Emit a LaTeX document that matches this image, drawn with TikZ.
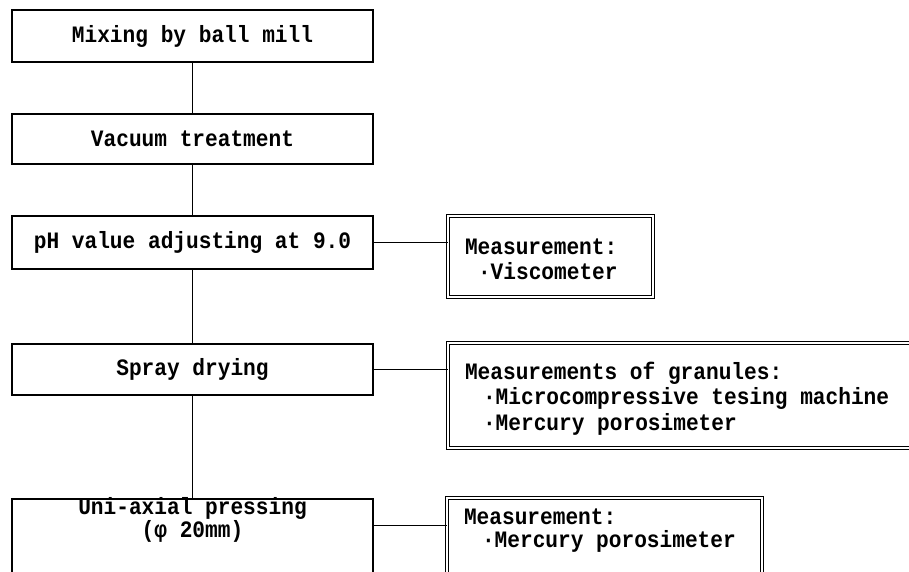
\documentclass[tikz,border=0pt]{standalone}
\usepackage{fontspec}
\newfontfamily\typefont{Liberation Mono}[FakeStretch=0.9]
\newcommand\typesize[1]{\typefont\bfseries\fontsize{23.5}{#1}\selectfont\spaceskip=12.69pt\relax}
\begin{document}
\begin{tikzpicture}[x=1pt,y=1pt,
  every node/.style={font=\typesize{25.5}},
  stage/.style={draw,line width=1.4pt,minimum width=361pt,inner sep=0pt,align=center},
  meas/.style={draw,double,line width=1pt,double distance=2pt,inner xsep=17pt,inner ysep=0pt,align=flush left}]
\useasboundingbox (0,0) rectangle (909,-572);
\node[stage,minimum height=52pt] (mix) at (192.5,-36) {Mixing by ball mill};
\node[stage,minimum height=50pt] (vac) at (192.5,-139) {Vacuum treatment};
\node[stage,minimum height=53pt] (ph) at (192.5,-242.5) {pH value adjusting at 9.0};
\node[stage,minimum height=51pt] (spray) at (192.5,-369.5) {Spray drying};
\node[stage,anchor=north,minimum height=120pt,text height=38.5pt,text depth=81.5pt,font=\typesize{20}] (press) at (192.5,-498.4)
  {Uni-axial pressing\\(φ 20mm)};
\node[meas,text height=38pt,text depth=43pt,text width=171pt] (visc) at (550.5,-256.5)
  {Measurement:\\\hspace*{13pt}·Viscometer};
\node[meas,text height=36pt,text depth=69pt,text width=458pt] (gran) at (694,-395.5)
  {Measurements of granules:\\\hspace*{18pt}·Microcompressive tesing machine\\\hspace*{18pt}·Mercury porosimeter};
\node[meas,anchor=north,inner ysep=11pt,text width=281pt,text depth=90pt,font=\typesize{23}] (merc) at (604.5,-497.5)
  {Measurement:\\\hspace*{18pt}·Mercury porosimeter};
\foreach \a/\b in {mix/vac,vac/ph,ph/spray,spray/press}
  \draw[line width=1.3pt] (\a) -- (\b);
\draw[line width=1.2pt] (ph.east) -- (ph.east -| visc.west);
\draw[line width=1.2pt] (spray.east) -- (spray.east -| gran.west);
\coordinate (presslink) at ([yshift=-27pt]press.north east);
\draw[line width=1.2pt] (presslink) -- (presslink -| merc.west);
\end{tikzpicture}
\end{document}
